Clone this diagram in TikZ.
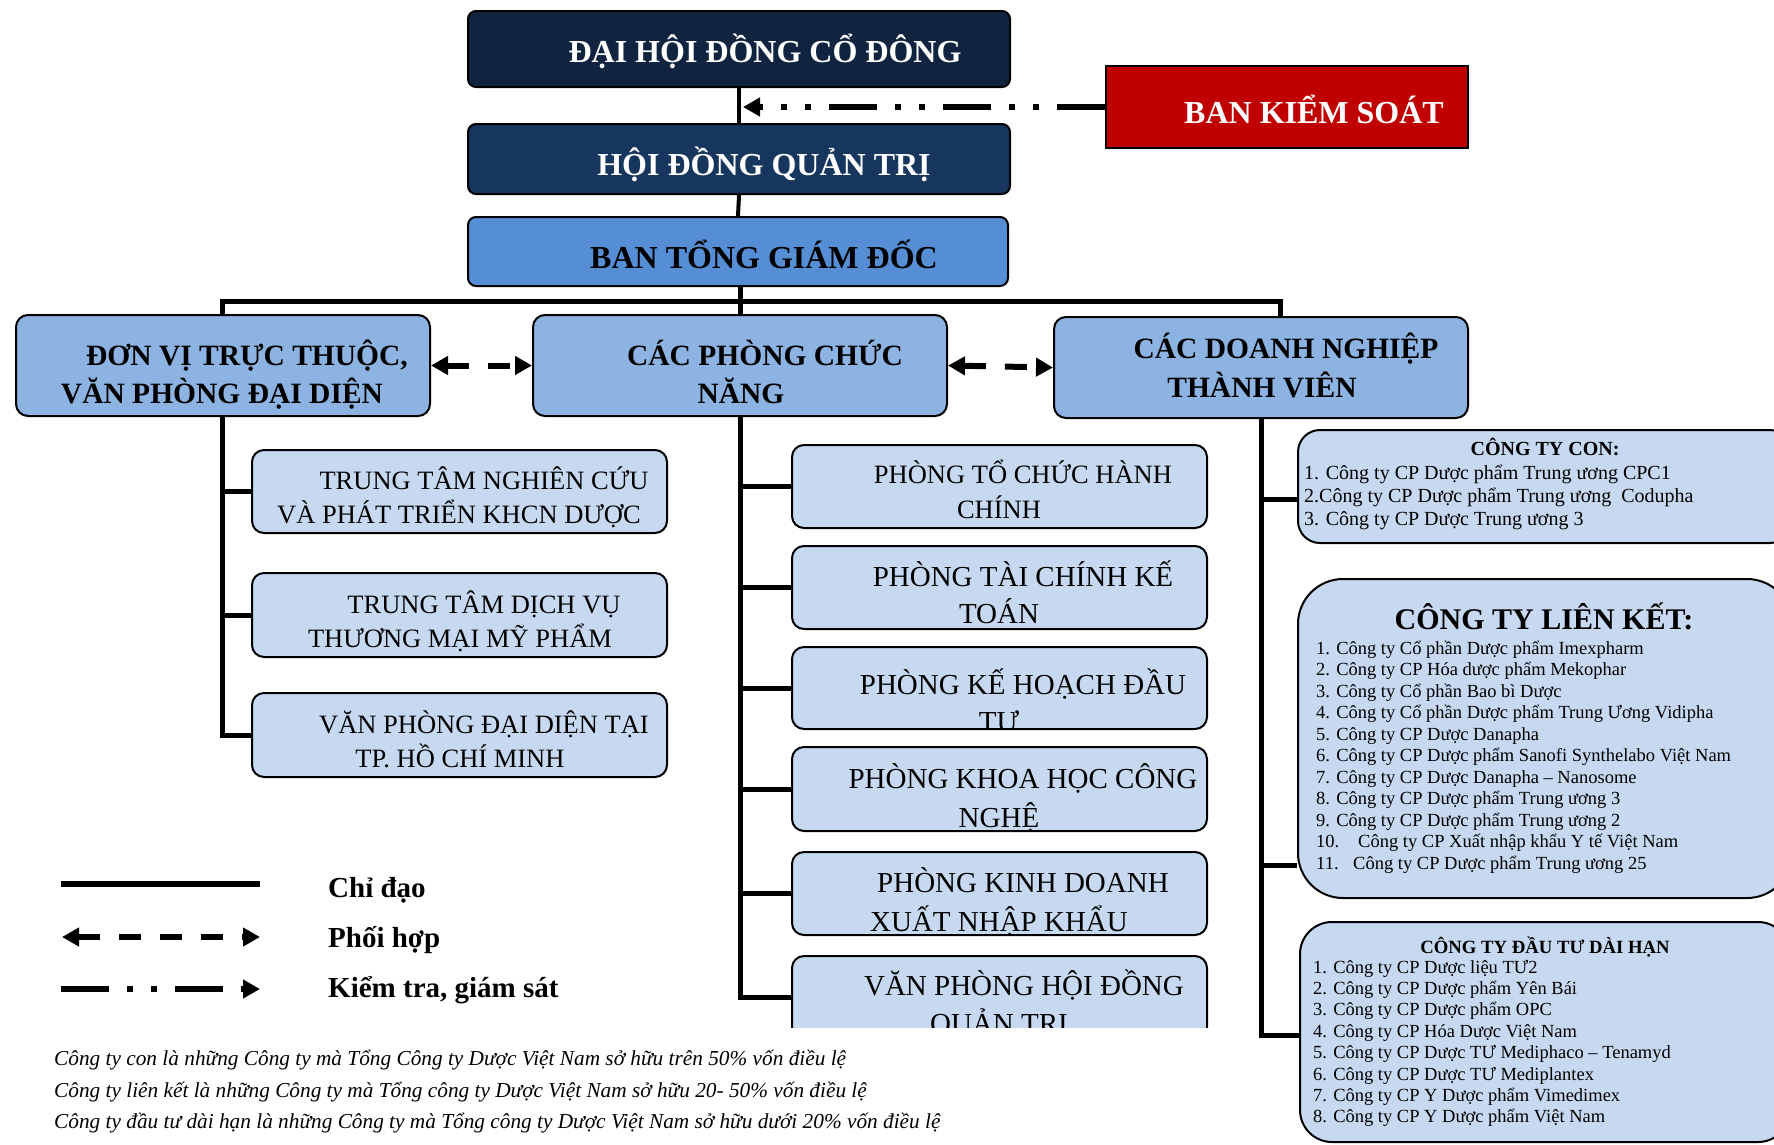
\documentclass[tikz,border=0pt]{standalone}
\usepackage{fontspec}
\setmainfont{Liberation Serif}
\usetikzlibrary{arrows.meta}
\definecolor{navyA}{HTML}{10243F}
\definecolor{navyB}{HTML}{17365D}
\definecolor{blueC}{HTML}{558ED5}
\definecolor{blueD}{HTML}{8DB3E2}
\definecolor{blueE}{HTML}{C6D9F1}
\definecolor{redK}{HTML}{C00000}
\begin{document}
\begin{tikzpicture}[x=1pt,y=-1pt,
  box/.style={draw=black, line width=2pt, inner sep=0pt},
  topbox/.style={box, rounded corners=8pt},
  midbox/.style={box, rounded corners=12pt, fill=blueD},
  subbox/.style={box, rounded corners=12pt, fill=blueE},
  ttop/.style={anchor=base, inner sep=0pt, font=\bfseries\fontsize{32}{38}\selectfont},
  tmid/.style={anchor=base, inner sep=0pt, font=\bfseries\fontsize{29.5}{35}\selectfont},
  tsubS/.style={anchor=base, inner sep=0pt, font=\fontsize{26.5}{32}\selectfont},
  tsubL/.style={anchor=base, inner sep=0pt, font=\fontsize{29}{35}\selectfont},
  item/.style={anchor=base west, inner sep=0pt},
  conn/.style={line width=5pt},
  connT/.style={line width=4pt},
  coop/.style={line width=6pt, dash pattern=on 22pt off 19pt,
    {Triangle[length=17pt,width=18pt]}-{Triangle[length=17pt,width=18pt]}},
  ctrl/.style={line width=6pt, dash pattern=on 48pt off 18pt on 6pt off 18pt on 6pt off 18pt,
    -{Triangle[length=17pt,width=18pt]}}
]
\useasboundingbox (0,0) rectangle (1774,1144);
\clip (0,0) rectangle (1774,1144);
\fill[white] (0,0) rectangle (1774,1144);

% ---------- top boxes ----------
\node[topbox, fill=navyA, minimum width=542pt, minimum height=76pt] (dhdcd) at (739,49) {};
\node[box, fill=redK, minimum width=362pt, minimum height=82pt] (bks) at (1287,107) {};
\node[topbox, fill=navyB, minimum width=542pt, minimum height=70pt] (hdqt) at (739,159) {};
\node[topbox, fill=blueC, minimum width=540pt, minimum height=69pt] (btgd) at (738,251.5) {};

\node[ttop, text=white] (dhdcdT) at (765,62) {ĐẠI HỘI ĐỒNG CỔ ĐÔNG};
\node[ttop, text=white] (bksT) at (1314,123) {BAN KIỂM SOÁT};
\node[ttop, text=white] (hdqtT) at (764,175) {HỘI ĐỒNG QUẢN TRỊ};
\node[ttop] (btgdT) at (764,268) {BAN TỔNG GIÁM ĐỐC};

% ---------- level 2 ----------
\node[midbox, minimum width=414pt, minimum height=101pt] (dv) at (223,365.5) {};
\node[midbox, minimum width=414pt, minimum height=101pt] (cp) at (740,365.5) {};
\node[midbox, minimum width=414pt, minimum height=101pt] (dn) at (1261,367.5) {};

\node[tmid] (dvT1) at (247,365) {ĐƠN VỊ TRỰC THUỘC,};
\node[tmid] (dvT2) at (222,403) {VĂN PHÒNG ĐẠI DIỆN};
\node[tmid] (cpT1) at (765,365) {CÁC PHÒNG CHỨC};
\node[tmid] (cpT2) at (741,403) {NĂNG};
\node[tmid] (dnT1) at (1286,358) {CÁC DOANH NGHIỆP};
\node[tmid] (dnT2) at (1262,397) {THÀNH VIÊN};

% ---------- left sub boxes ----------
\node[subbox, minimum width=415pt, minimum height=83pt] (tt1) at (459.5,491.5) {};
\node[subbox, minimum width=415pt, minimum height=84pt] (tt2) at (459.5,615) {};
\node[subbox, minimum width=415pt, minimum height=84pt] (tt3) at (459.5,735) {};
\node[tsubS] (tt1a) at (484,489) {TRUNG TÂM NGHIÊN CỨU};
\node[tsubS] (tt1b) at (459,523) {VÀ PHÁT TRIỂN KHCN DƯỢC};
\node[tsubS] (tt2a) at (484,613) {TRUNG TÂM DỊCH VỤ};
\node[tsubS] (tt2b) at (460,647) {THƯƠNG MẠI MỸ PHẨM};
\node[tsubS] (tt3a) at (484,733) {VĂN PHÒNG ĐẠI DIỆN TẠI};
\node[tsubS] (tt3b) at (460,767) {TP. HỒ CHÍ MINH};

% ---------- middle sub boxes ----------
\node[subbox, minimum width=415pt, minimum height=83pt] (p1) at (999.5,486.5) {};
\node[subbox, minimum width=415pt, minimum height=83pt] (p2) at (999.5,587.5) {};
\node[subbox, minimum width=415pt, minimum height=82pt] (p3) at (999.5,688) {};
\node[subbox, minimum width=415pt, minimum height=84pt] (p4) at (999.5,789) {};
\node[subbox, minimum width=415pt, minimum height=83pt] (p5) at (999.5,893.5) {};
\begin{scope}
  \clip (770,940) rectangle (1230,1027);
  \node[subbox, minimum width=415pt, minimum height=83pt] (p6) at (999.5,997.5) {};
  \node[tsubL] (p6a) at (1024,995) {VĂN PHÒNG HỘI ĐỒNG};
  \node[tsubL] (p6b) at (999,1033) {QUẢN TRỊ};
\end{scope}

\node[tsubS] (p1a) at (1023,483) {PHÒNG TỔ CHỨC HÀNH};
\node[tsubS] (p1b) at (999,518) {CHÍNH};
\node[tsubL] (p2a) at (1023,586) {PHÒNG TÀI CHÍNH KẾ};
\node[tsubL] (p2b) at (999,623) {TOÁN};
\begin{scope}
  \clip ([shift={(1,1)}]p3.north west) rectangle ([shift={(-1,-1)}]p3.south east);
  \node[tsubL] (p3a) at (1023,694) {PHÒNG KẾ HOẠCH ĐẦU};
  \node[tsubL] (p3b) at (999,731) {TƯ};
\end{scope}
\begin{scope}
  \clip ([shift={(1,1)}]p4.north west) rectangle ([shift={(-1,-1)}]p4.south east);
  \node[tsubL] (p4a) at (1023,788) {PHÒNG KHOA HỌC CÔNG};
  \node[tsubL] (p4b) at (999,827) {NGHỆ};
\end{scope}
\begin{scope}
  \clip ([shift={(1,1)}]p5.north west) rectangle ([shift={(-1,-1)}]p5.south east);
  \node[tsubL] (p5a) at (1023,892) {PHÒNG KINH DOANH};
  \node[tsubL] (p5b) at (999,931) {XUẤT NHẬP KHẨU};
\end{scope}

% ---------- right boxes ----------
\node[box, rounded corners=22pt, fill=blueE, minimum width=494pt, minimum height=113pt] (con) at (1545,486.5) {};
\node[box, rounded corners=45pt, fill=blueE, minimum width=494pt, minimum height=319pt] (lk) at (1545,738.5) {};
\node[box, rounded corners=32pt, fill=blueE, minimum width=490pt, minimum height=220pt] (dt) at (1545,1032) {};

\node[anchor=base, inner sep=0pt, font=\bfseries\fontsize{20}{23}\selectfont] (conH) at (1545,455) {CÔNG TY CON:};
\foreach \t [count=\i] in {{1. Công ty CP Dược phẩm Trung ương CPC1},
  {2.Công ty CP Dược phẩm Trung ương \ Codupha},
  {3. Công ty CP Dược Trung ương 3}}
  \node[item, font=\fontsize{20}{23}\selectfont] (con\i) at (1304,{479+23*(\i-1)}) {\t};

\node[anchor=base, inner sep=0pt, font=\bfseries\fontsize{30}{35}\selectfont] (lkH) at (1544,629) {CÔNG TY LIÊN KẾT:};
\foreach \t [count=\i] in {{1. Công ty Cổ phần Dược phẩm Imexpharm},
  {2. Công ty CP Hóa dược phẩm Mekophar},
  {3. Công ty Cổ phần Bao bì Dược},
  {4. Công ty Cổ phần Dược phẩm Trung Ương Vidipha},
  {5. Công ty CP Dược Danapha},
  {6. Công ty CP Dược phẩm Sanofi Synthelabo Việt Nam},
  {7. Công ty CP Dược Danapha – Nanosome},
  {8. Công ty CP Dược phẩm Trung ương 3},
  {9. Công ty CP Dược phẩm Trung ương 2},
  {\rlap{10.}\hspace*{42pt}Công ty CP Xuất nhập khẩu Y tế Việt Nam},
  {\rlap{11.}\hspace*{37pt}Công ty CP Dược phẩm Trung ương 25}}
  \node[item, font=\fontsize{18.5}{21}\selectfont] (lk\i) at (1316,{654+21.5*(\i-1)}) {\t};

\node[anchor=base, inner sep=0pt, font=\bfseries\fontsize{18.7}{22}\selectfont] (dtH) at (1545,953) {CÔNG TY ĐẦU TƯ DÀI HẠN};
\foreach \t [count=\i] in {{1. Công ty CP Dược liệu TƯ2},
  {2. Công ty CP Dược phẩm Yên Bái},
  {3. Công ty CP Dược phẩm OPC},
  {4. Công ty CP Hóa Dược Việt Nam},
  {5. Công ty CP Dược TƯ Mediphaco – Tenamyd},
  {6. Công ty CP Dược TƯ Mediplantex},
  {7. Công ty CP Y Dược phẩm Vimedimex},
  {8. Công ty CP Y Dược phẩm Việt Nam}}
  \node[item, font=\fontsize{18.5}{21}\selectfont] (dt\i) at (1313,{973+21.4*(\i-1)}) {\t};

% ---------- connectors ----------
\draw[connT] (dhdcd.south) -- (hdqt.north);
\draw[connT] (hdqt.south) -- (btgd.north);
\coordinate (barL) at (222,301);
\coordinate (barR) at (1280,301);
\draw[conn] (cp.north |- btgd.south) -- (cp.north);
\draw[conn] (barL |- dv.north) -- (barL) -- (barR) -- (barR |- dn.north);

\draw[conn] (dv.south -| barL) |- (tt1.west);
\draw[conn] (dv.south -| barL) |- (tt2.west);
\draw[conn] (dv.south -| barL) |- (tt3.west);

\draw[conn] (cp.south) |- (p1.west);
\draw[conn] (cp.south) |- (p2.west);
\draw[conn] (cp.south) |- (p3.west);
\draw[conn] (cp.south) |- (p4.west);
\draw[conn] (cp.south) |- (p5.west);
\draw[conn] (cp.south) |- (p6.west);

\draw[conn] (dn.south) |- ([yshift=-12.5pt]con.west);
\draw[conn] (dn.south) |- ([yshift=-126.5pt]lk.west);
\draw[conn] (dn.south) |- ([yshift=-3pt]dt.west);

\draw[coop] (dv.east) -- (cp.west);
\draw[coop] (cp.east) -- (dn.west);
\draw[ctrl] (bks.west) -- ([xshift=4pt]dhdcd.south |- bks.west);

% ---------- legend ----------
\coordinate (l1a) at (61,884);  \coordinate (l1b) at (260,884);
\coordinate (l2a) at (62,937);  \coordinate (l2b) at (260,937);
\coordinate (l3a) at (61,989);  \coordinate (l3b) at (260,989);
\draw[line width=6pt] (l1a) -- (l1b);
\draw[coop] (l2a) -- (l2b);
\draw[ctrl] (l3a) -- (l3b);
\node[item, font=\bfseries\fontsize{29}{33}\selectfont] (lg1) at (328,897) {Chỉ đạo};
\node[item, font=\bfseries\fontsize{29}{33}\selectfont] (lg2) at (328,947) {Phối hợp};
\node[item, font=\bfseries\fontsize{29}{33}\selectfont] (lg3) at (328,997) {Kiểm tra, giám sát};

% ---------- notes ----------
\node[item, font=\itshape\fontsize{21.3}{25}\selectfont] (n1) at (54,1065) {Công ty con là những Công ty mà Tổng Công ty Dược Việt Nam sở hữu trên 50\% vốn điều lệ};
\node[item, font=\itshape\fontsize{21.3}{25}\selectfont] (n2) at (54,1097) {Công ty liên kết là những Công ty mà Tổng công ty Dược Việt Nam sở hữu 20- 50\% vốn điều lệ};
\node[item, font=\itshape\fontsize{21.3}{25}\selectfont] (n3) at (54,1128) {Công ty đầu tư dài hạn là những Công ty mà Tổng công ty Dược Việt Nam sở hữu dưới 20\% vốn điều lệ};
\end{tikzpicture}
\end{document}
